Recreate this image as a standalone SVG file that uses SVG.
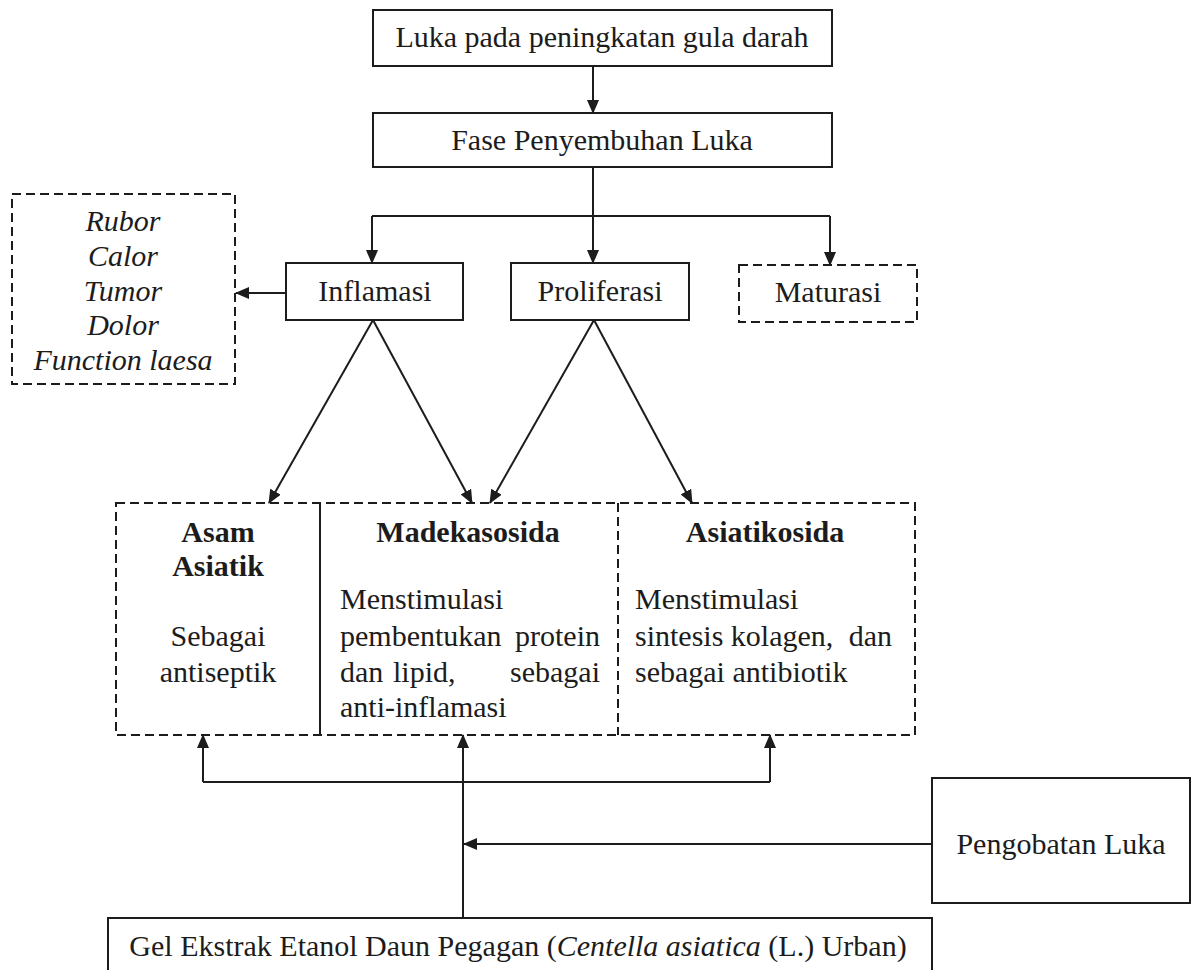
<svg xmlns="http://www.w3.org/2000/svg" width="1199" height="970" viewBox="0 0 1199 970">
<style>
text{font-family:"Liberation Serif","Times New Roman",serif;font-size:30px;fill:#1c1c1c}
.c{text-anchor:middle}
.e{text-anchor:end}
.i{font-style:italic}
.b{font-weight:bold}
.box{fill:#fff;stroke:#1c1c1c;stroke-width:2}
.dash{fill:none;stroke:#1c1c1c;stroke-width:2;stroke-dasharray:9 5}
.ln{fill:none;stroke:#1c1c1c;stroke-width:2}
.arr{fill:none;stroke:#1c1c1c;stroke-width:2;marker-end:url(#ah)}
</style>
<defs>
<marker id="ah" markerUnits="userSpaceOnUse" markerWidth="14" markerHeight="12" refX="13" refY="6" orient="auto">
<path d="M0,0 L14,6 L0,12 z" fill="#1c1c1c"/>
</marker>
</defs>
<rect width="1199" height="970" fill="#fff"/>

<g id="connectors">
<line class="arr" x1="593" y1="66" x2="593" y2="113"/>
<line class="arr" x1="593" y1="167" x2="593" y2="263"/>
<polyline class="ln" points="372,216 830,216"/>
<line class="arr" x1="372" y1="216" x2="372" y2="263"/>
<line class="arr" x1="830" y1="216" x2="830" y2="265"/>
<line class="arr" x1="286" y1="293" x2="236" y2="293"/>
<line class="arr" x1="373" y1="320" x2="269" y2="503"/>
<line class="arr" x1="373" y1="320" x2="472" y2="503"/>
<line class="arr" x1="594" y1="320" x2="490" y2="503"/>
<line class="arr" x1="594" y1="320" x2="692" y2="503"/>
<polyline class="ln" points="203,782 770,782"/>
<line class="arr" x1="203" y1="782" x2="203" y2="735"/>
<line class="arr" x1="770" y1="782" x2="770" y2="735"/>
<line class="arr" x1="463" y1="918" x2="463" y2="735"/>
<line class="arr" x1="932" y1="844" x2="464" y2="844"/>
</g>

<g id="node-luka">
<rect class="box" x="373" y="10" width="459" height="56"/>
<text class="c" x="602" y="47">Luka pada peningkatan gula darah</text>
</g>

<g id="node-fase">
<rect class="box" x="373" y="113" width="459" height="54"/>
<text class="c" x="602" y="150">Fase Penyembuhan Luka</text>
</g>

<g id="node-tanda">
<rect class="dash" x="12" y="194" width="223" height="190"/>
<text class="c i" x="123" y="231">Rubor</text>
<text class="c i" x="123" y="266">Calor</text>
<text class="c i" x="123" y="301">Tumor</text>
<text class="c i" x="123" y="335">Dolor</text>
<text class="c i" x="123" y="370">Function laesa</text>
</g>

<g id="node-inflamasi">
<rect class="box" x="286" y="263" width="177" height="57"/>
<text class="c" x="375" y="301">Inflamasi</text>
</g>

<g id="node-proliferasi">
<rect class="box" x="511" y="263" width="178" height="57"/>
<text class="c" x="600" y="301">Proliferasi</text>
</g>

<g id="node-maturasi">
<rect class="dash" x="739" y="265" width="178" height="57"/>
<text class="c" x="828" y="302">Maturasi</text>
</g>

<g id="node-senyawa">
<rect class="dash" x="116" y="503" width="799" height="232"/>
<line class="ln" x1="320" y1="503" x2="320" y2="735"/>
<line class="dash" x1="618" y1="503" x2="618" y2="735"/>
</g>

<g id="node-asam-asiatik">
<text class="c b" x="218" y="542">Asam</text>
<text class="c b" x="218" y="576">Asiatik</text>
<text class="c" x="218" y="646">Sebagai</text>
<text class="c" x="218" y="682">antiseptik</text>
</g>

<g id="node-madekasosida">
<text class="c b" x="468" y="542">Madekasosida</text>
<text x="340" y="609">Menstimulasi</text>
<text x="340" y="646">pembentukan</text>
<text class="e" x="600" y="646">protein</text>
<text x="340" y="682">dan</text>
<text x="393" y="682">lipid,</text>
<text class="e" x="600" y="682">sebagai</text>
<text x="340" y="717">anti-inflamasi</text>
</g>

<g id="node-asiatikosida">
<text class="c b" x="765" y="542">Asiatikosida</text>
<text x="635" y="609">Menstimulasi</text>
<text x="635" y="646">sintesis kolagen,</text>
<text class="e" x="892" y="646">dan</text>
<text x="635" y="682">sebagai antibiotik</text>
</g>

<g id="node-pengobatan">
<rect class="box" x="932" y="778" width="258" height="125"/>
<text class="c" x="1061" y="854">Pengobatan Luka</text>
</g>

<g id="node-gel">
<rect class="box" x="108" y="918" width="824" height="70"/>
<text class="c" x="518" y="956">Gel Ekstrak Etanol Daun Pegagan (<tspan class="i" font-style="italic">Centella asiatica</tspan> (L.) Urban)</text>
</g>
</svg>
